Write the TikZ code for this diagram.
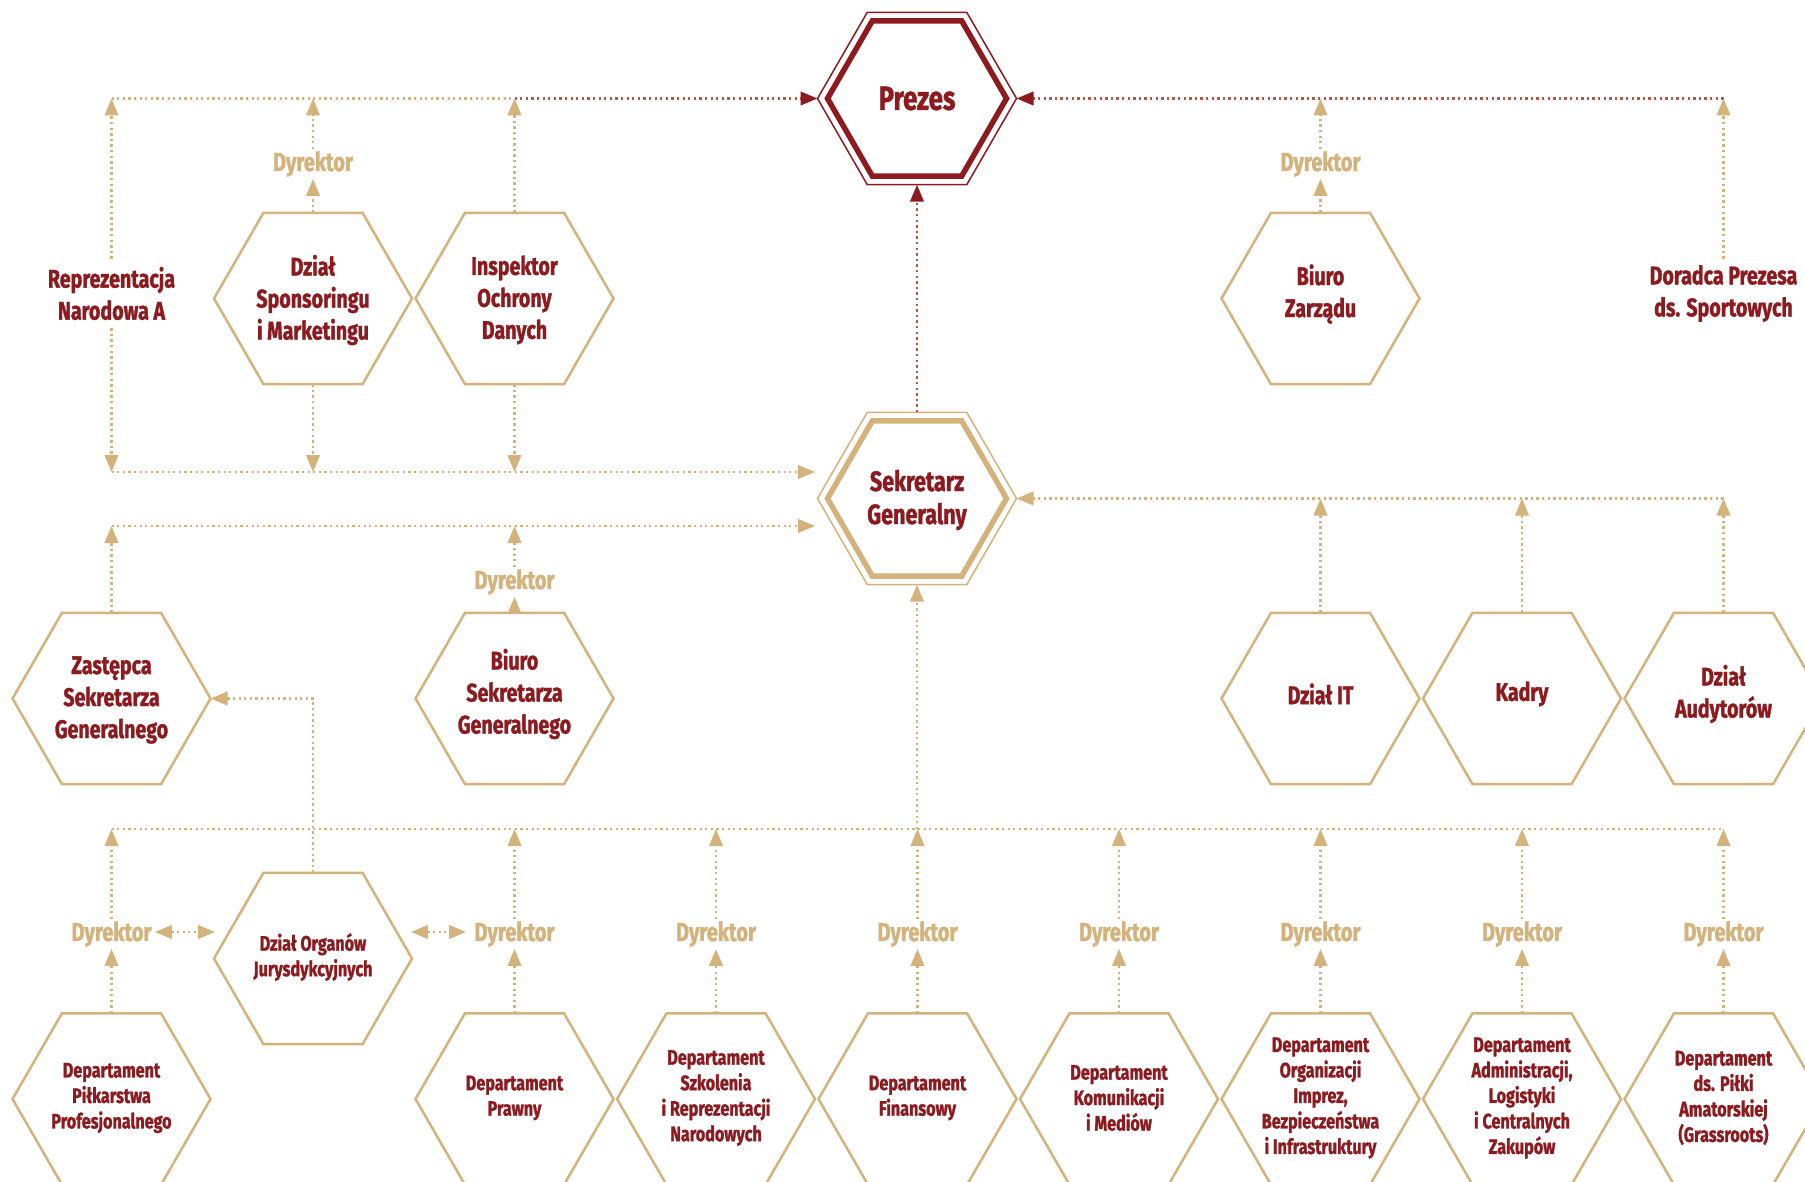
\documentclass[tikz,border=0pt]{standalone}
\usepackage{fontspec}
\newfontfamily\hf{Fira Sans}[FakeStretch=0.77, FakeBold=1.3]
\usetikzlibrary{shapes.geometric,arrows.meta}
\definecolor{gold}{HTML}{D4B27C}
\definecolor{fzred}{HTML}{8C1A1F}
\definecolor{fzbrown}{HTML}{B0574A}
\tikzset{
  hexa/.style={regular polygon, regular polygon sides=6, minimum size=198pt, inner sep=0pt, outer sep=0pt, draw=gold, line width=2.5pt},
  bigin/.style={regular polygon, regular polygon sides=6, minimum size=179pt, inner sep=0pt, outer sep=0pt, line width=5.5pt},
  bigout/.style={regular polygon, regular polygon sides=6, minimum size=199pt, inner sep=0pt, outer sep=0pt, line width=1.5pt},
  txt/.style={text=fzred, font=\hf\bfseries\fontsize{25.5}{32}\selectfont, align=center, inner sep=0pt},
  stxt/.style={text=fzred, font=\hf\bfseries\fontsize{21}{25.5}\selectfont, align=center, inner sep=0pt},
  dyr/.style={text=gold, font=\hf\bfseries\fontsize{26}{28}\selectfont, inner sep=2pt},
  conn/.style={draw=gold, line width=2.5pt, dash pattern=on 2.3pt off 3.3pt},
  connb/.style={draw=fzbrown, line width=2.5pt, dash pattern=on 2.3pt off 3.3pt},
  tipg/.style={-{Triangle[length=17pt,width=13.5pt]}},
  tipr/.style={-{Triangle[length=17pt,width=13.5pt,color=fzred]}},
  tipboth/.style={{Triangle[length=17pt,width=13.5pt]}-{Triangle[length=17pt,width=13.5pt]}},
}
\begin{document}
\begin{tikzpicture}[x=1pt,y=-1pt]
\useasboundingbox[fill=white] (0,0) rectangle (1805,1182);

% ---- central hexagons
\node[bigin, draw=fzred] (prezes) at (917,98.5) {};
\node[bigout, draw=fzred] (prezesO) at (917,98.5) {};
\node[text=fzred, font=\hf\bfseries\fontsize{33.5}{38}\selectfont, inner sep=0pt] (prezesT) at (917,98.5) {Prezes};
\node[bigin, draw=gold] (sek) at (917,498.5) {};
\node[bigout, draw=gold] (sekO) at (917,498.5) {};
\node[txt, font=\hf\bfseries\fontsize{28}{33}\selectfont] (sekT) at (917,500) {Sekretarz\\Generalny};

% ---- top row
\node[hexa] (spons) at (313,298.5) {};
\node[txt] (sponsT) at (313,300) {Dział\\Sponsoringu\\i Marketingu};
\node[hexa] (insp) at (514.5,298.5) {};
\node[txt] (inspT) at (514.5,300) {Inspektor\\Ochrony\\Danych};
\node[hexa] (bzarz) at (1320.5,298.5) {};
\node[txt] (bzarzT) at (1320.5,294) {Biuro\\Zarządu};
\node[txt, inner sep=8pt] (repr) at (111.5,293.5) {Reprezentacja\\Narodowa A};
\node[txt, inner ysep=6pt] (dorad) at (1723.5,293.5) {Doradca Prezesa\\ds. Sportowych};
\node[dyr] (dyrS) at (313,164) {Dyrektor};
\node[dyr] (dyrZ) at (1320.5,164) {Dyrektor};

% ---- middle row
\node[hexa] (zast) at (111.5,698.5) {};
\node[txt] (zastT) at (111.5,700) {Zastępca\\Sekretarza\\Generalnego};
\node[hexa] (bsek) at (514.5,698.5) {};
\node[txt] (bsekT) at (514.5,694) {Biuro\\Sekretarza\\Generalnego};
\node[dyr] (dyrB) at (514.5,582) {Dyrektor};
\node[hexa] (it) at (1320.5,698.5) {};
\node[txt] (itT) at (1320.5,694) {Dział IT};
\node[hexa] (kadry) at (1522,698.5) {};
\node[txt] (kadryT) at (1522,694) {Kadry};
\node[hexa] (aud) at (1723.5,698.5) {};
\node[txt] (audT) at (1723.5,694) {Dział\\Audytorów};

% ---- Dzial Organow
\node[hexa] (org) at (313,958.5) {};
\node[stxt] (orgT) at (313,957) {Dział Organów\\Jurysdykcyjnych};

% ---- bus coordinates
\coordinate (tl) at (111.5,98.5);
\coordinate (tm) at (514.5,98.5);
\coordinate (tr) at (1723.5,98.5);
\coordinate (ml) at (111.5,472);
\coordinate (mlE) at (815,472);
\coordinate (ql) at (111.5,526);
\coordinate (qE) at (815,526);
\coordinate (rr) at (1723.5,498.5);
\coordinate (busL) at (111.5,829);
\coordinate (busR) at (1723.5,829);

% ---- bottom row
\foreach \x/\nm/\t in {
  111.5/dpp/{Departament\\Piłkarstwa\\Profesjonalnego},
  514.5/dpr/{Departament\\Prawny},
  716/dsz/{Departament\\Szkolenia\\i Reprezentacji\\Narodowych},
  917.5/dfi/{Departament\\Finansowy},
  1119/dkm/{Departament\\Komunikacji\\i Mediów},
  1320.5/dor/{Departament\\Organizacji\\Imprez,\\Bezpieczeństwa\\i Infrastruktury},
  1522/dal/{Departament\\Administracji,\\Logistyki\\i Centralnych\\Zakupów},
  1723.5/dam/{Departament\\ds. Piłki\\Amatorskiej\\(Grassroots)}}{
  \node[hexa] (\nm) at (\x,1099) {};
  \node[stxt] (\nm T) at (\x,1098) {\t};
  \node[dyr] (d\nm) at (\x,934) {Dyrektor};
  \draw[conn,tipg] (\nm.north) -- (d\nm.south);
  \draw[conn,tipg] (d\nm.north) -- (d\nm.north |- busL);
}

% ---- connectors: top
\draw[conn] (tl) -- (tm);
\draw[connb,tipr] (tm) -- (prezesO.west);
\draw[connb,tipr] (tr) -- (prezesO.east);
\draw[connb,tipr] (sekO.north) -- (prezesO.south);
\draw[conn,tipg] (repr.north) -- (tl);
\draw[conn,tipg] (repr.south) -- (ml);
\draw[conn,tipg] (spons.north) -- (dyrS.south);
\draw[conn,tipg] (dyrS.north) -- (dyrS.north |- tl);
\draw[conn,tipg] (insp.north) -- (tm);
\draw[conn,tipg] (bzarz.north) -- (dyrZ.south);
\draw[conn,tipg] (dyrZ.north) -- (dyrZ.north |- tr);
\draw[conn,tipg] (dorad.north) -- (tr);

% ---- connectors: to Sekretarz
\draw[conn,tipg] (spons.south) -- (spons.south |- ml);
\draw[conn,tipg] (insp.south) -- (insp.south |- ml);
\draw[conn,tipg] (ml) -- (mlE);
\draw[conn,tipg] (ql) -- (qE);
\draw[conn,tipg] (zast.north) -- (ql);
\draw[conn,tipg] (bsek.north) -- (dyrB.south);
\draw[conn,tipg] (dyrB.north) -- (dyrB.north |- ql);
\draw[conn,tipg] (rr) -- (sekO.east);
\draw[conn,tipg] (it.north) -- (it.north |- rr);
\draw[conn,tipg] (kadry.north) -- (kadry.north |- rr);
\draw[conn,tipg] (aud.north) -- (rr);

% ---- bottom bus
\draw[conn] (busL) -- (busR);
\draw[conn,tipg] (sekO.south |- busL) -- (sekO.south);
\draw[conn,tipg] (org.north) |- (zast.east);
\coordinate (oL1) at (155,932);
\coordinate (oL2) at (215,932);
\coordinate (oR1) at (411,932);
\coordinate (oR2) at (466,932);
\draw[conn,tipboth] (oL1) -- (oL2);
\draw[conn,tipboth] (oR1) -- (oR2);
\end{tikzpicture}
\end{document}
